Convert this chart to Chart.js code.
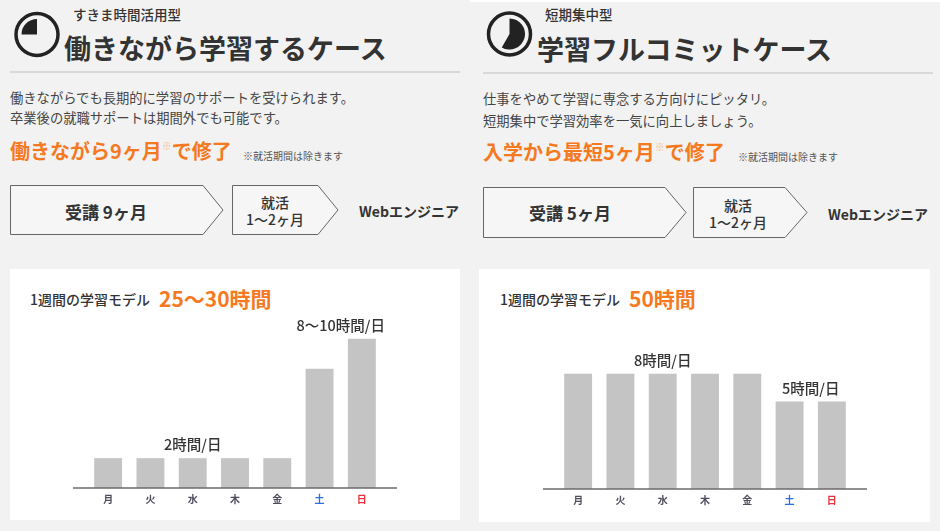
<!DOCTYPE html>
<html lang="ja">
<head>
<meta charset="utf-8">
<script src="https://cdn.jsdelivr.net/npm/chart.js@4.4.1/dist/chart.umd.min.js"></script>
<style>
  html, body { margin: 0; padding: 0; }
  body {
    width: 940px; height: 531px; overflow: hidden; position: relative;
    background: #f2f2f2;
    font-family: "Noto Sans CJK JP", "Noto Sans", sans-serif;
    color: #333;
  }
  .abs { position: absolute; white-space: nowrap; line-height: 1; }
  .sub { font-size: 13.5px; font-weight: 500; color: #333; }
  .ttl { font-size: 27px; font-weight: 700; color: #333; }
  .body { font-size: 13.3px; color: #444; }
  .hl { font-size: 20px; font-weight: 700; color: #f5791f; }
  .hl .sup { font-size: 10px; color: #f8b585; vertical-align: 9px; font-weight: 400; }
  .note { font-size: 10px; color: #555; }
  .sep { position: absolute; height: 2px; background: #d8d8d8; }
  .card { position: absolute; background: #fff; }
  .ctitle { font-size: 14px; font-weight: 500; color: #333; }
  .cbig { font-size: 21px; font-weight: 700; color: #f5791f; }
  .step1 { font-size: 17px; font-weight: 700; color: #333; }
  .step2 { font-size: 14px; font-weight: 500; color: #333; text-align: center; line-height: 17px; }
  .goal { font-size: 14px; font-weight: 700; color: #333; }
  .chartbox { position: absolute; }
  svg { position: absolute; left: 0; top: 0; }
</style>
</head>
<body>

<div style="position:absolute;left:470px;top:0;width:470px;height:2px;background:#fff"></div>

<svg width="940" height="260">
  <!-- icons -->
  <circle cx="37" cy="34.5" r="21" fill="none" stroke="#222" stroke-width="3.5"/>
  <path d="M37 34.5 L21.5 34.5 A15.5 15.5 0 0 1 37 19 Z" fill="#222"/>
  <circle cx="509.5" cy="34" r="21" fill="none" stroke="#222" stroke-width="3.5"/>
  <path d="M509.5 34 L509.5 18.5 A15.5 15.5 0 1 1 501.75 47.42 Z" fill="#222"/>
  <!-- steps -->
  <polygon points="10.5,185.5 203,185.5 223,210 203,234.5 10.5,234.5" fill="#f6f6f6" stroke="#666" stroke-width="1"/>
  <polygon points="232.5,185.5 318,185.5 338,210 318,234.5 232.5,234.5" fill="#f6f6f6" stroke="#666" stroke-width="1"/>
  <polygon points="483.5,187.5 665,187.5 686,212.5 665,237.5 483.5,237.5" fill="#f6f6f6" stroke="#666" stroke-width="1"/>
  <polygon points="693.5,187.5 785,187.5 807,212.5 785,237.5 693.5,237.5" fill="#f6f6f6" stroke="#666" stroke-width="1"/>
</svg>

<!-- left header -->
<div class="abs sub" style="left:73px;top:8px">すきま時間活用型</div>
<div class="abs ttl" style="left:64px;top:34px">働きながら学習するケース</div>
<div class="sep" style="left:10px;top:71px;width:450px"></div>
<div class="abs body" style="left:10px;top:91px">働きながらでも長期的に学習のサポートを受けられます。</div>
<div class="abs body" style="left:10px;top:111px">卒業後の就職サポートは期間外でも可能です。</div>
<div class="abs hl" style="left:10px;top:141px">働きながら9ヶ月<span class="sup">※</span>で修了</div>
<div class="abs note" style="left:243px;top:151px">※就活期間は除きます</div>
<div class="abs step1" style="left:65px;top:203px">受講 9ヶ月</div>
<div class="abs step2" style="left:240px;top:194px;width:70px">就活<br>1〜2ヶ月</div>
<div class="abs goal" style="left:359px;top:204px">Webエンジニア</div>

<!-- right header -->
<div class="abs sub" style="left:545px;top:8px">短期集中型</div>
<div class="abs ttl" style="left:537px;top:35px">学習フルコミットケース</div>
<div class="sep" style="left:483px;top:72px;width:450px"></div>
<div class="abs body" style="left:483px;top:92px">仕事をやめて学習に専念する方向けにピッタリ。</div>
<div class="abs body" style="left:483px;top:114px">短期集中で学習効率を一気に向上しましょう。</div>
<div class="abs hl" style="left:483px;top:142px">入学から最短5ヶ月<span class="sup">※</span>で修了</div>
<div class="abs note" style="left:738px;top:152px">※就活期間は除きます</div>
<div class="abs step1" style="left:529px;top:204px">受講 5ヶ月</div>
<div class="abs step2" style="left:703px;top:197px;width:70px">就活<br>1〜2ヶ月</div>
<div class="abs goal" style="left:828px;top:207px">Webエンジニア</div>

<!-- chart cards -->
<div class="card" style="left:10px;top:269px;width:450px;height:251px"></div>
<div class="card" style="left:479px;top:269px;width:451px;height:253px"></div>

<div class="abs ctitle" style="left:30px;top:292px">1週間の学習モデル</div>
<div class="abs cbig" style="left:159px;top:288px">25〜30時間</div>
<div class="abs ctitle" style="left:500px;top:292px">1週間の学習モデル</div>
<div class="abs cbig" style="left:629px;top:288px">50時間</div>

<div class="chartbox" style="left:10px;top:309px;width:450px;height:211px"><canvas id="chartWork"></canvas></div>
<div class="chartbox" style="left:480px;top:310px;width:450px;height:211px"><canvas id="chartFull"></canvas></div>

<script>
const days = ["月", "火", "水", "木", "金", "土", "日"];
const hoursWorking = [2, 2, 2, 2, 2, 8, 10];
const hoursFull = [8, 8, 8, 8, 8, 5, 5];
const notesWorking = [
  { text: "2時間/日", from: 2, to: 2 },
  { text: "8〜10時間/日", from: 5, to: 6 },
];
const notesFull = [
  { text: "8時間/日", from: 2, to: 2 },
  { text: "5時間/日", from: 5, to: 6 },
];

const tickColors = ["#4d4d5e", "#4d4d5e", "#4d4d5e", "#4d4d5e", "#4d4d5e", "#2f6ee0", "#e6323a"];

// baseline that runs a little past the bars, plus the hour labels above them
const decoPlugin = {
  id: "deco",
  afterDatasetsDraw(chart, args, opts) {
    const ctx = chart.ctx;
    const area = chart.chartArea;
    const x = chart.scales.x;
    const y = chart.scales.y;
    const data = chart.data.datasets[0].data;

    ctx.save();
    ctx.strokeStyle = "#6b6b6b";
    ctx.lineWidth = 1.6;
    ctx.beginPath();
    ctx.moveTo(area.left - 14, area.bottom);
    ctx.lineTo(area.right + 14, area.bottom);
    ctx.stroke();

    ctx.fillStyle = "#333";
    ctx.font = '500 14.5px "Noto Sans CJK JP"';
    ctx.textAlign = "center";
    ctx.textBaseline = "middle";
    opts.notes.forEach((n) => {
      const cx = (x.getPixelForValue(n.from) + x.getPixelForValue(n.to)) / 2;
      const top = Math.max(...data.slice(n.from, n.to + 1));
      ctx.fillText(n.text, cx, y.getPixelForValue(top) - 13.5);
    });
    ctx.restore();
  },
};

function makeChart(id, values, notes, yMin, yMax) {
  return new Chart(document.getElementById(id).getContext("2d"), {
    type: "bar",
    data: {
      labels: days,
      datasets: [
        {
          data: values,
          base: yMin,
          backgroundColor: "#c4c4c4",
          borderWidth: 0,
          barPercentage: 0.66,
          categoryPercentage: 1,
        },
      ],
    },
    options: {
      responsive: true,
      maintainAspectRatio: false,
      animation: false,
      layout: { padding: { left: 77, right: 77, top: 0, bottom: 10 } },
      plugins: {
        legend: { display: false },
        tooltip: { enabled: false },
        deco: { notes: notes },
      },
      scales: {
        x: {
          grid: { display: false, drawTicks: false },
          border: { display: false },
          ticks: {
            padding: 5,
            color: (c) => tickColors[c.index],
            font: { family: "Noto Sans CJK JP", size: 10, weight: "bold" },
          },
        },
        y: { display: false, min: yMin, max: yMax },
      },
    },
    plugins: [decoPlugin],
  });
}

makeChart("chartWork", hoursWorking, notesWorking, 0, 12);
makeChart("chartFull", hoursFull, notesFull, -4.43, 14.86);
</script>
</body>
</html>
